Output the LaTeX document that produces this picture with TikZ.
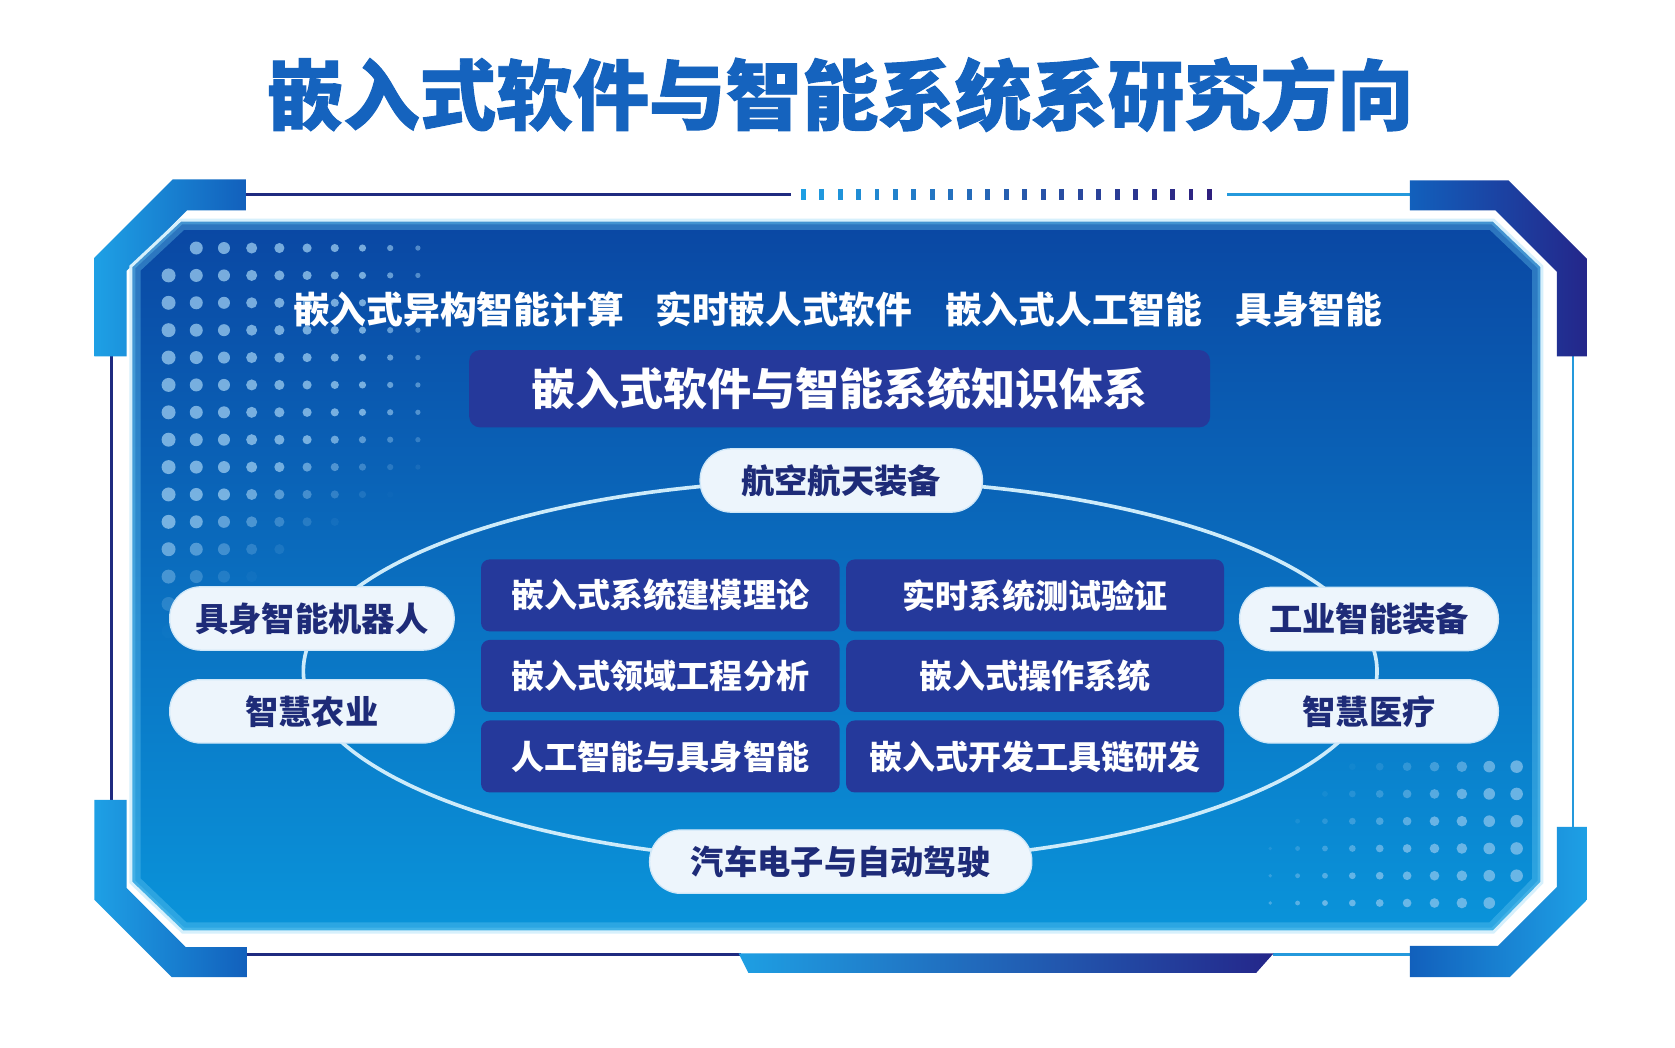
\documentclass[tikz,border=0pt]{standalone}
\usepackage{fontspec}
\newfontfamily\cjk{Noto Sans CJK SC}
\newfontfamily\cjkt{Noto Sans CJK SC}[BoldFeatures={FakeBold=1.2}]
\usetikzlibrary{shapes.misc}
\definecolor{titleblue}{HTML}{1563BE}
\definecolor{navyb}{HTML}{25399B}
\definecolor{navyline}{HTML}{1F2A80}
\definecolor{lightline}{HTML}{2499DC}
\definecolor{dashlight}{HTML}{1E9FE3}
\definecolor{dashnavy}{HTML}{2E1F7E}
\definecolor{paneltop}{HTML}{0A47A3}
\definecolor{panelmid}{HTML}{0B62B8}
\definecolor{panelbot}{HTML}{0A94DA}
\definecolor{glow}{HTML}{6CCBF3}
\definecolor{edge}{HTML}{D6F0FC}
\definecolor{dotc}{HTML}{9CCCF0}
\definecolor{pillfill}{HTML}{EDF5FC}
\definecolor{pillborder}{HTML}{CFE7F8}
\definecolor{pilltext}{HTML}{1E2B78}
\definecolor{ringc}{HTML}{CDEBFA}
\definecolor{brlight}{HTML}{1EA0E5}
\definecolor{brmid}{HTML}{1260BC}
\definecolor{brnavy}{HTML}{24268A}
\begin{document}
\begin{tikzpicture}[x=0.5pt,y=-0.5pt,
  navybox/.style={fill=navyb, rounded corners=4pt, text=white, inner sep=0pt,
    font=\cjk\bfseries\fontsize{15.4pt}{18pt}\selectfont, minimum height=33.5pt},
  pill/.style={fill=pillfill, draw=pillborder, line width=0.6pt, rounded corners=14.5pt,
    text=pilltext, inner sep=0pt, minimum height=29.5pt,
    font=\cjk\bfseries\fontsize{15.5pt}{18pt}\selectfont},
  toptext/.style={text=white, inner sep=0pt, font=\cjk\bfseries\fontsize{17.1pt}{20pt}\selectfont},
  thinline/.style={line width=1.5pt}
]
\useasboundingbox (0,0) rectangle (1560,976);
\fill[white] (0,0) rectangle (1560,976);

% title
\node[text=titleblue, inner sep=0pt, font=\cjkt\bfseries\fontsize{35.6pt}{40pt}\selectfont] (title) at (782.5,88) {嵌入式软件与智能系统系研究方向};

% frame thin lines
\draw[navyline, thinline] (229,181) -- (737,181);
\draw[lightline, thinline] (1143,181) -- (1313,181);
\draw[navyline, thinline] (104,332) -- (104,745);
\draw[lightline, line width=1.3pt] (1465,332) -- (1465,770);
\draw[navyline, thinline] (230,889) -- (690,889);
\draw[lightline, line width=1.2pt] (1186,889) -- (1313,889);
\foreach \k in {0,...,22}{
  \pgfmathsetmacro{\xx}{748+17.2*\k}
  \pgfmathtruncatemacro{\pp}{round(100*\k/22)}
  \fill[dashnavy!\pp!dashlight] (\xx-2.3,176) rectangle (\xx+2.3,186);
}

% brackets
\shade[left color=brlight, right color=brmid] (229,167) -- (161,167) -- (88,240) -- (88,332) -- (118,332) -- (118,252) -- (174,196) -- (229,196) -- cycle;
\shade[left color=brmid, right color=brnavy] (1313,168) -- (1405,168) -- (1478,241) -- (1478,332) -- (1450,332) -- (1450,253) -- (1393,196) -- (1313,196) -- cycle;
\shade[left color=brlight, right color=brmid] (118,745) -- (88,745) -- (88,838) -- (160,910) -- (230,910) -- (230,882) -- (173,882) -- (118,827) -- cycle;
\shade[left color=brmid, right color=brlight] (1450,770) -- (1478,770) -- (1478,838) -- (1406,910) -- (1313,910) -- (1313,881) -- (1395,881) -- (1450,826) -- cycle;
\shade[left color=dashlight, right color=brnavy] (688,888) -- (1186,888) -- (1170,906) -- (697,906) -- cycle;

% panel
\shade[top color=paneltop, middle color=panelmid, bottom color=panelbot]
  (168,205) -- (1391,205) -- (1436,248) -- (1436,822) -- (1391,868) -- (170,868) -- (122,822) -- (122,248) -- cycle;
\begin{scope}
  \clip (168,205) -- (1391,205) -- (1436,248) -- (1436,822) -- (1391,868) -- (170,868) -- (122,822) -- (122,248) -- cycle;
  \draw[glow, opacity=0.35, line width=9pt] (168,205) -- (1391,205) -- (1436,248) -- (1436,822) -- (1391,868) -- (170,868) -- (122,822) -- (122,248) -- cycle;
  \draw[glow, opacity=0.35, line width=4pt] (168,205) -- (1391,205) -- (1436,248) -- (1436,822) -- (1391,868) -- (170,868) -- (122,822) -- (122,248) -- cycle;
\end{scope}
\draw[edge, line width=1.4pt] (168,205) -- (1391,205) -- (1436,248) -- (1436,822) -- (1391,868) -- (170,868) -- (122,822) -- (122,248) -- cycle;

% dots top-left
\foreach \i in {0,...,9}{
  \foreach \j in {0,...,14}{
    \pgfmathsetmacro{\op}{0.75*min(1,max(0,(13-\i-1.6*max(0,\j-6))/6))}
    \pgfmathsetmacro{\rr}{(6.5-0.45*\i)/2}
    \ifnum\numexpr\i+\j\relax>0
      \ifdim\op pt>0.02pt
        \fill[dotc, opacity=\op] (157+25.8*\i, 231+25.5*\j) circle[radius=\rr pt];
      \fi
    \fi
  }
}
% dots bottom-right
\foreach \k in {0,...,9}{
  \foreach \m in {0,...,5}{
    \pgfmathsetmacro{\op}{0.65*min(1,max(0,(\k+1.3*\m-2.5)/6))}
    \pgfmathsetmacro{\rr}{(1.8+0.45*\k)/2}
    \ifnum\numexpr\k+\m\relax<14
      \ifdim\op pt>0.02pt
        \fill[dotc, opacity=\op] (1183+25.5*\k, 714+25.4*\m) circle[radius=\rr pt];
      \fi
    \fi
  }
}

% top row texts
\node[toptext] (t1) at (427,288) {嵌入式异构智能计算};
\node[toptext] (t2) at (730,288) {实时嵌人式软件};
\node[toptext] (t3) at (1000,288) {嵌入式人工智能};
\node[toptext] (t4) at (1219,288) {具身智能};

% knowledge box
\node[fill=navyb, rounded corners=5pt, text=white, inner sep=0pt, minimum width=345pt, minimum height=36pt,
  font=\cjk\bfseries\fontsize{20.5pt}{24pt}\selectfont] (kb) at (782,362) {嵌入式软件与智能系统知识体系};

% ring
\draw[ringc, line width=1.7pt] (782.5,625) ellipse [x radius=250pt, y radius=89pt];

% central grid
\node[navybox, minimum width=167pt] (b1) at (615,554.5) {嵌入式系统建模理论};
\node[navybox, minimum width=176pt] (b2) at (964,554.5) {实时系统测试验证};
\node[navybox, minimum width=167pt] (b3) at (615,629.5) {嵌入式领域工程分析};
\node[navybox, minimum width=176pt] (b4) at (964,629.5) {嵌入式操作系统};
\node[navybox, minimum width=167pt] (b5) at (615,704.5) {人工智能与具身智能};
\node[navybox, minimum width=176pt] (b6) at (964,704.5) {嵌入式开发工具链研发};

% pills
\node[pill, minimum width=131.5pt] (p1) at (783.5,447.5) {航空航天装备};
\node[pill, minimum width=178pt] (p2) at (783,802.5) {汽车电子与自动驾驶};
\node[pill, minimum width=132.5pt] (p3) at (290.5,576) {具身智能机器人};
\node[pill, minimum width=132.5pt] (p4) at (290.5,662.5) {智慧农业};
\node[pill, minimum width=120.5pt] (p5) at (1275,576.5) {工业智能装备};
\node[pill, minimum width=120.5pt] (p6) at (1275,662.5) {智慧医疗};
\end{tikzpicture}
\end{document}
